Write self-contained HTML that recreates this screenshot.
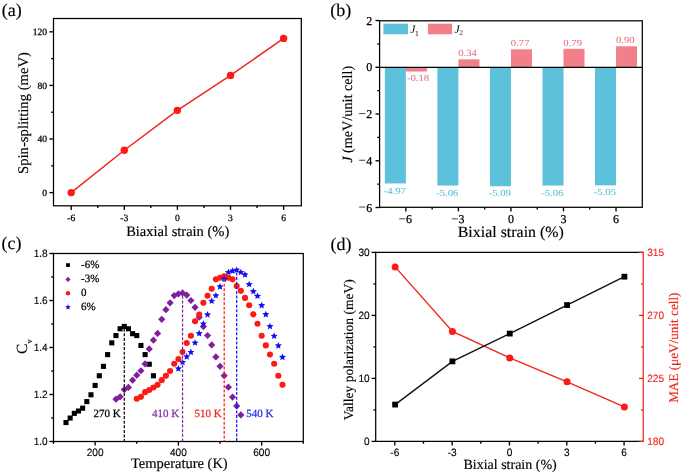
<!DOCTYPE html>
<html><head><meta charset="utf-8"><style>
html,body{margin:0;padding:0;background:#fff;}
body{width:685px;height:474px;overflow:hidden;}
svg{display:block;will-change:transform;}
</style></head><body>
<svg text-rendering="geometricPrecision" width="685" height="474" viewBox="0 0 685 474" font-family='"Liberation Serif", serif'>
<rect width="685" height="474" fill="#fff"/>
<text x="1.8" y="16.1" font-size="18" font-family='"Liberation Serif", serif' text-anchor="start" fill="#000" stroke="#000" stroke-width="0.15" >(a)</text>
<line x1="71.2" y1="205.8" x2="71.2" y2="209.9" stroke="#000" stroke-width="1.35" />
<text x="71.2" y="220.6" font-size="9.6" font-family='"Liberation Serif", serif' text-anchor="middle" fill="#000" stroke="#000" stroke-width="0.25" >-6</text>
<line x1="124.3" y1="205.8" x2="124.3" y2="209.9" stroke="#000" stroke-width="1.35" />
<text x="124.3" y="220.6" font-size="9.6" font-family='"Liberation Serif", serif' text-anchor="middle" fill="#000" stroke="#000" stroke-width="0.25" >-3</text>
<line x1="177.4" y1="205.8" x2="177.4" y2="209.9" stroke="#000" stroke-width="1.35" />
<text x="177.4" y="220.6" font-size="9.6" font-family='"Liberation Serif", serif' text-anchor="middle" fill="#000" stroke="#000" stroke-width="0.25" >0</text>
<line x1="230.5" y1="205.8" x2="230.5" y2="209.9" stroke="#000" stroke-width="1.35" />
<text x="230.5" y="220.6" font-size="9.6" font-family='"Liberation Serif", serif' text-anchor="middle" fill="#000" stroke="#000" stroke-width="0.25" >3</text>
<line x1="283.6" y1="205.8" x2="283.6" y2="209.9" stroke="#000" stroke-width="1.35" />
<text x="283.6" y="220.6" font-size="9.6" font-family='"Liberation Serif", serif' text-anchor="middle" fill="#000" stroke="#000" stroke-width="0.25" >6</text>
<line x1="97.75" y1="205.8" x2="97.75" y2="208.1" stroke="#000" stroke-width="1.35" />
<line x1="150.85" y1="205.8" x2="150.85" y2="208.1" stroke="#000" stroke-width="1.35" />
<line x1="203.95" y1="205.8" x2="203.95" y2="208.1" stroke="#000" stroke-width="1.35" />
<line x1="257.05" y1="205.8" x2="257.05" y2="208.1" stroke="#000" stroke-width="1.35" />
<line x1="49.4" y1="192.6" x2="53.5" y2="192.6" stroke="#000" stroke-width="1.35" />
<text x="47.1" y="196" font-size="9.6" font-family='"Liberation Serif", serif' text-anchor="end" fill="#000" stroke="#000" stroke-width="0.25" >0</text>
<line x1="49.4" y1="139.01" x2="53.5" y2="139.01" stroke="#000" stroke-width="1.35" />
<text x="47.1" y="142.41" font-size="9.6" font-family='"Liberation Serif", serif' text-anchor="end" fill="#000" stroke="#000" stroke-width="0.25" >40</text>
<line x1="49.4" y1="85.42" x2="53.5" y2="85.42" stroke="#000" stroke-width="1.35" />
<text x="47.1" y="88.82" font-size="9.6" font-family='"Liberation Serif", serif' text-anchor="end" fill="#000" stroke="#000" stroke-width="0.25" >80</text>
<line x1="49.4" y1="31.84" x2="53.5" y2="31.84" stroke="#000" stroke-width="1.35" />
<text x="47.1" y="35.24" font-size="9.6" font-family='"Liberation Serif", serif' text-anchor="end" fill="#000" stroke="#000" stroke-width="0.25" >120</text>
<line x1="51.2" y1="165.81" x2="53.5" y2="165.81" stroke="#000" stroke-width="1.35" />
<line x1="51.2" y1="112.22" x2="53.5" y2="112.22" stroke="#000" stroke-width="1.35" />
<line x1="51.2" y1="58.63" x2="53.5" y2="58.63" stroke="#000" stroke-width="1.35" />
<rect x="53.5" y="18.5" width="247.8" height="187.3" fill="none" stroke="#000" stroke-width="1.25"/>
<polyline points="71.2,192.6 124.3,150.27 177.4,110.34 230.5,75.38 283.6,38.4" fill="none" stroke="#f0261f" stroke-width="1.5"/>
<circle cx="71.2" cy="192.6" r="3.7" fill="#fd1a12"/>
<circle cx="124.3" cy="150.27" r="3.7" fill="#fd1a12"/>
<circle cx="177.4" cy="110.34" r="3.7" fill="#fd1a12"/>
<circle cx="230.5" cy="75.38" r="3.7" fill="#fd1a12"/>
<circle cx="283.6" cy="38.4" r="3.7" fill="#fd1a12"/>
<text x="177.7" y="236" font-size="14.5" font-family='"Liberation Serif", serif' text-anchor="middle" fill="#000" stroke="#000" stroke-width="0.15" >Biaxial strain (%)</text>
<text transform="translate(28,113) rotate(-90)" x="0" y="0" font-size="14.7" font-family='"Liberation Serif", serif' text-anchor="middle" fill="#000" stroke="#000" stroke-width="0.15" >Spin-splitting (meV)</text>
<text x="330.2" y="16.1" font-size="18" font-family='"Liberation Serif", serif' text-anchor="start" fill="#000" stroke="#000" stroke-width="0.15" >(b)</text>
<rect x="384.85" y="67.3" width="21.02" height="116.15" fill="#5ec1db"/>
<rect x="405.87" y="67.3" width="21.02" height="4.21" fill="#f1808a"/>
<text transform="translate(394.76,193.55) scale(1.15,1)" font-size="9.3" text-anchor="middle" fill="#5bbcd6" stroke="#5bbcd6" stroke-width="0.05">-4.97</text>
<text transform="translate(418.08,81.11) scale(1.15,1)" font-size="9.3" text-anchor="middle" fill="#e8707e" stroke="#e8707e" stroke-width="0.05">-0.18</text>
<rect x="437.39" y="67.3" width="21.02" height="118.25" fill="#5ec1db"/>
<rect x="458.41" y="59.35" width="21.02" height="7.95" fill="#f1808a"/>
<text transform="translate(447.30,195.65) scale(1.15,1)" font-size="9.3" text-anchor="middle" fill="#5bbcd6" stroke="#5bbcd6" stroke-width="0.05">-5.06</text>
<text transform="translate(467.62,56.35) scale(1.15,1)" font-size="9.3" text-anchor="middle" fill="#e8707e" stroke="#e8707e" stroke-width="0.05">0.34</text>
<rect x="489.93" y="67.3" width="21.02" height="118.95" fill="#5ec1db"/>
<rect x="510.95" y="49.31" width="21.02" height="17.99" fill="#f1808a"/>
<text transform="translate(499.84,196.35) scale(1.15,1)" font-size="9.3" text-anchor="middle" fill="#5bbcd6" stroke="#5bbcd6" stroke-width="0.05">-5.09</text>
<text transform="translate(520.16,46.31) scale(1.15,1)" font-size="9.3" text-anchor="middle" fill="#e8707e" stroke="#e8707e" stroke-width="0.05">0.77</text>
<rect x="542.47" y="67.3" width="21.02" height="118.25" fill="#5ec1db"/>
<rect x="563.49" y="48.84" width="21.02" height="18.46" fill="#f1808a"/>
<text transform="translate(552.38,195.65) scale(1.15,1)" font-size="9.3" text-anchor="middle" fill="#5bbcd6" stroke="#5bbcd6" stroke-width="0.05">-5.06</text>
<text transform="translate(572.70,45.84) scale(1.15,1)" font-size="9.3" text-anchor="middle" fill="#e8707e" stroke="#e8707e" stroke-width="0.05">0.79</text>
<rect x="595.01" y="67.3" width="21.02" height="118.02" fill="#5ec1db"/>
<rect x="616.03" y="46.27" width="21.02" height="21.03" fill="#f1808a"/>
<text transform="translate(604.92,195.42) scale(1.15,1)" font-size="9.3" text-anchor="middle" fill="#5bbcd6" stroke="#5bbcd6" stroke-width="0.05">-5.05</text>
<text transform="translate(625.24,43.27) scale(1.15,1)" font-size="9.3" text-anchor="middle" fill="#e8707e" stroke="#e8707e" stroke-width="0.05">0.90</text>
<line x1="379.6" y1="67.3" x2="642.3" y2="67.3" stroke="#000" stroke-width="1.2" />
<rect x="383.4" y="23.7" width="24.6" height="10.6" fill="#5ec1db"/>
<text x="410.3" y="33" font-size="11.5" font-family='"Liberation Serif", serif' font-style="italic">J</text>
<text x="415" y="35.5" font-size="7.5" font-family='"Liberation Serif", serif'>1</text>
<rect x="427.9" y="23.7" width="24.2" height="10.6" fill="#f1808a"/>
<text x="454.5" y="33" font-size="11.5" font-family='"Liberation Serif", serif' font-style="italic">J</text>
<text x="459.2" y="35" font-size="7.5" font-family='"Liberation Serif", serif'>2</text>
<line x1="405.87" y1="207.3" x2="405.87" y2="211.4" stroke="#000" stroke-width="1.35" />
<text x="406.07" y="223" font-size="12" font-family='"Liberation Serif", serif' text-anchor="start" fill="#000" stroke="#000" stroke-width="0.25" >6</text>
<rect x="399.17" y="218.25" width="6.1" height="1.1" fill="#555"/>
<line x1="458.41" y1="207.3" x2="458.41" y2="211.4" stroke="#000" stroke-width="1.35" />
<text x="458.61" y="223" font-size="12" font-family='"Liberation Serif", serif' text-anchor="start" fill="#000" stroke="#000" stroke-width="0.25" >3</text>
<rect x="451.71" y="218.25" width="6.1" height="1.1" fill="#555"/>
<line x1="510.95" y1="207.3" x2="510.95" y2="211.4" stroke="#000" stroke-width="1.35" />
<text x="510.95" y="223" font-size="12" font-family='"Liberation Serif", serif' text-anchor="middle" fill="#000" stroke="#000" stroke-width="0.25" >0</text>
<line x1="563.49" y1="207.3" x2="563.49" y2="211.4" stroke="#000" stroke-width="1.35" />
<text x="563.49" y="223" font-size="12" font-family='"Liberation Serif", serif' text-anchor="middle" fill="#000" stroke="#000" stroke-width="0.25" >3</text>
<line x1="616.03" y1="207.3" x2="616.03" y2="211.4" stroke="#000" stroke-width="1.35" />
<text x="616.03" y="223" font-size="12" font-family='"Liberation Serif", serif' text-anchor="middle" fill="#000" stroke="#000" stroke-width="0.25" >6</text>
<line x1="432.14" y1="207.3" x2="432.14" y2="209.6" stroke="#000" stroke-width="1.35" />
<line x1="484.68" y1="207.3" x2="484.68" y2="209.6" stroke="#000" stroke-width="1.35" />
<line x1="537.22" y1="207.3" x2="537.22" y2="209.6" stroke="#000" stroke-width="1.35" />
<line x1="589.76" y1="207.3" x2="589.76" y2="209.6" stroke="#000" stroke-width="1.35" />
<line x1="375.5" y1="20.56" x2="379.6" y2="20.56" stroke="#000" stroke-width="1.35" />
<text x="372.3" y="24.56" font-size="12" font-family='"Liberation Serif", serif' text-anchor="end" fill="#000" stroke="#000" stroke-width="0.25" >2</text>
<line x1="375.5" y1="67.3" x2="379.6" y2="67.3" stroke="#000" stroke-width="1.35" />
<text x="372.3" y="71.3" font-size="12" font-family='"Liberation Serif", serif' text-anchor="end" fill="#000" stroke="#000" stroke-width="0.25" >0</text>
<line x1="375.5" y1="114.04" x2="379.6" y2="114.04" stroke="#000" stroke-width="1.35" />
<text x="372.3" y="118.04" font-size="12" font-family='"Liberation Serif", serif' text-anchor="end" fill="#000" stroke="#000" stroke-width="0.25" >2</text>
<rect x="359.10" y="112.99" width="6.2" height="1.1" fill="#555"/>
<line x1="375.5" y1="160.78" x2="379.6" y2="160.78" stroke="#000" stroke-width="1.35" />
<text x="372.3" y="164.78" font-size="12" font-family='"Liberation Serif", serif' text-anchor="end" fill="#000" stroke="#000" stroke-width="0.25" >4</text>
<rect x="359.10" y="159.73" width="6.2" height="1.1" fill="#555"/>
<line x1="375.5" y1="207.52" x2="379.6" y2="207.52" stroke="#000" stroke-width="1.35" />
<text x="372.3" y="211.52" font-size="12" font-family='"Liberation Serif", serif' text-anchor="end" fill="#000" stroke="#000" stroke-width="0.25" >6</text>
<rect x="359.10" y="206.47" width="6.2" height="1.1" fill="#555"/>
<line x1="377.3" y1="43.93" x2="379.6" y2="43.93" stroke="#000" stroke-width="1.35" />
<line x1="377.3" y1="90.67" x2="379.6" y2="90.67" stroke="#000" stroke-width="1.35" />
<line x1="377.3" y1="137.41" x2="379.6" y2="137.41" stroke="#000" stroke-width="1.35" />
<line x1="377.3" y1="184.15" x2="379.6" y2="184.15" stroke="#000" stroke-width="1.35" />
<rect x="379.6" y="20.8" width="262.7" height="186.5" fill="none" stroke="#000" stroke-width="1.25"/>
<text transform="translate(510.80,237.30) scale(1.015,1)" font-size="15.7" font-family='"Liberation Serif", serif' text-anchor="middle" fill="#000" stroke="#000" stroke-width="0.15" >Bixial strain (%)</text>
<text transform="translate(351.7,114.35) rotate(-90)" x="0" y="0" font-size="14.2" font-family='"Liberation Serif", serif' text-anchor="middle" fill="#000" stroke="#000" stroke-width="0.15" ><tspan font-style="italic">J</tspan> (meV/unit cell)</text>
<text x="1.5" y="249" font-size="18" font-family='"Liberation Serif", serif' text-anchor="start" fill="#000" stroke="#000" stroke-width="0.15" >(c)</text>
<line x1="95.13" y1="441.5" x2="95.13" y2="445.6" stroke="#000" stroke-width="1.35" />
<text transform="translate(95.13,456.10) scale(0.955,1)" font-size="10.6" font-family='"Liberation Sans", sans-serif' text-anchor="middle" fill="#000" stroke="#000" stroke-width="0.12" >200</text>
<line x1="178.4" y1="441.5" x2="178.4" y2="445.6" stroke="#000" stroke-width="1.35" />
<text transform="translate(178.40,456.10) scale(0.955,1)" font-size="10.6" font-family='"Liberation Sans", sans-serif' text-anchor="middle" fill="#000" stroke="#000" stroke-width="0.12" >400</text>
<line x1="261.67" y1="441.5" x2="261.67" y2="445.6" stroke="#000" stroke-width="1.35" />
<text transform="translate(261.67,456.10) scale(0.955,1)" font-size="10.6" font-family='"Liberation Sans", sans-serif' text-anchor="middle" fill="#000" stroke="#000" stroke-width="0.12" >600</text>
<line x1="53.5" y1="441.5" x2="53.5" y2="443.8" stroke="#000" stroke-width="1.35" />
<line x1="136.77" y1="441.5" x2="136.77" y2="443.8" stroke="#000" stroke-width="1.35" />
<line x1="220.03" y1="441.5" x2="220.03" y2="443.8" stroke="#000" stroke-width="1.35" />
<line x1="303.3" y1="441.5" x2="303.3" y2="443.8" stroke="#000" stroke-width="1.35" />
<line x1="49.4" y1="441.5" x2="53.5" y2="441.5" stroke="#000" stroke-width="1.35" />
<text transform="translate(47.70,445.20) scale(0.955,1)" font-size="10.6" font-family='"Liberation Sans", sans-serif' text-anchor="end" fill="#000" stroke="#000" stroke-width="0.12" >1.0</text>
<line x1="49.4" y1="394.5" x2="53.5" y2="394.5" stroke="#000" stroke-width="1.35" />
<text transform="translate(47.70,398.20) scale(0.955,1)" font-size="10.6" font-family='"Liberation Sans", sans-serif' text-anchor="end" fill="#000" stroke="#000" stroke-width="0.12" >1.2</text>
<line x1="49.4" y1="347.5" x2="53.5" y2="347.5" stroke="#000" stroke-width="1.35" />
<text transform="translate(47.70,351.20) scale(0.955,1)" font-size="10.6" font-family='"Liberation Sans", sans-serif' text-anchor="end" fill="#000" stroke="#000" stroke-width="0.12" >1.4</text>
<line x1="49.4" y1="300.5" x2="53.5" y2="300.5" stroke="#000" stroke-width="1.35" />
<text transform="translate(47.70,304.20) scale(0.955,1)" font-size="10.6" font-family='"Liberation Sans", sans-serif' text-anchor="end" fill="#000" stroke="#000" stroke-width="0.12" >1.6</text>
<line x1="49.4" y1="253.5" x2="53.5" y2="253.5" stroke="#000" stroke-width="1.35" />
<text transform="translate(47.70,257.20) scale(0.955,1)" font-size="10.6" font-family='"Liberation Sans", sans-serif' text-anchor="end" fill="#000" stroke="#000" stroke-width="0.12" >1.8</text>
<line x1="51.2" y1="418" x2="53.5" y2="418" stroke="#000" stroke-width="1.35" />
<line x1="51.2" y1="371" x2="53.5" y2="371" stroke="#000" stroke-width="1.35" />
<line x1="51.2" y1="324" x2="53.5" y2="324" stroke="#000" stroke-width="1.35" />
<line x1="51.2" y1="277" x2="53.5" y2="277" stroke="#000" stroke-width="1.35" />
<rect x="53.5" y="253.5" width="249.8" height="188" fill="none" stroke="#000" stroke-width="1.25"/>
<rect x="63.44" y="419.98" width="5.1" height="5.1" fill="#000"/><rect x="67.60" y="415.51" width="5.1" height="5.1" fill="#000"/><rect x="71.77" y="410.81" width="5.1" height="5.1" fill="#000"/><rect x="75.93" y="408.46" width="5.1" height="5.1" fill="#000"/><rect x="80.09" y="405.64" width="5.1" height="5.1" fill="#000"/><rect x="84.26" y="399.06" width="5.1" height="5.1" fill="#000"/><rect x="88.42" y="392.25" width="5.1" height="5.1" fill="#000"/><rect x="92.58" y="382.85" width="5.1" height="5.1" fill="#000"/><rect x="96.75" y="373.22" width="5.1" height="5.1" fill="#000"/><rect x="100.91" y="363.81" width="5.1" height="5.1" fill="#000"/><rect x="105.07" y="352.06" width="5.1" height="5.1" fill="#000"/><rect x="109.24" y="340.31" width="5.1" height="5.1" fill="#000"/><rect x="113.40" y="333.03" width="5.1" height="5.1" fill="#000"/><rect x="117.56" y="326.21" width="5.1" height="5.1" fill="#000"/><rect x="121.73" y="323.87" width="5.1" height="5.1" fill="#000"/><rect x="125.89" y="326.21" width="5.1" height="5.1" fill="#000"/><rect x="130.05" y="331.15" width="5.1" height="5.1" fill="#000"/><rect x="134.22" y="333.03" width="5.1" height="5.1" fill="#000"/><rect x="138.38" y="342.90" width="5.1" height="5.1" fill="#000"/><rect x="142.54" y="352.06" width="5.1" height="5.1" fill="#000"/><rect x="146.71" y="361.70" width="5.1" height="5.1" fill="#000"/><rect x="150.87" y="373.22" width="5.1" height="5.1" fill="#000"/><rect x="113.40" y="396.65" width="5.1" height="5.1" fill="#7f1fa0" transform="rotate(45 115.95 399.20)"/><rect x="117.56" y="394.30" width="5.1" height="5.1" fill="#7f1fa0" transform="rotate(45 120.11 396.85)"/><rect x="121.73" y="387.01" width="5.1" height="5.1" fill="#7f1fa0" transform="rotate(45 124.28 389.56)"/><rect x="125.89" y="384.90" width="5.1" height="5.1" fill="#7f1fa0" transform="rotate(45 128.44 387.45)"/><rect x="130.05" y="377.62" width="5.1" height="5.1" fill="#7f1fa0" transform="rotate(45 132.60 380.17)"/><rect x="134.22" y="372.68" width="5.1" height="5.1" fill="#7f1fa0" transform="rotate(45 136.77 375.23)"/><rect x="138.38" y="368.21" width="5.1" height="5.1" fill="#7f1fa0" transform="rotate(45 140.93 370.76)"/><rect x="142.54" y="361.40" width="5.1" height="5.1" fill="#7f1fa0" transform="rotate(45 145.09 363.95)"/><rect x="146.71" y="346.36" width="5.1" height="5.1" fill="#7f1fa0" transform="rotate(45 149.26 348.91)"/><rect x="150.87" y="337.67" width="5.1" height="5.1" fill="#7f1fa0" transform="rotate(45 153.42 340.22)"/><rect x="155.03" y="330.85" width="5.1" height="5.1" fill="#7f1fa0" transform="rotate(45 157.58 333.40)"/><rect x="159.20" y="316.75" width="5.1" height="5.1" fill="#7f1fa0" transform="rotate(45 161.75 319.30)"/><rect x="163.36" y="307.12" width="5.1" height="5.1" fill="#7f1fa0" transform="rotate(45 165.91 309.67)"/><rect x="167.52" y="300.30" width="5.1" height="5.1" fill="#7f1fa0" transform="rotate(45 170.07 302.85)"/><rect x="171.69" y="293.01" width="5.1" height="5.1" fill="#7f1fa0" transform="rotate(45 174.24 295.56)"/><rect x="175.85" y="291.37" width="5.1" height="5.1" fill="#7f1fa0" transform="rotate(45 178.40 293.92)"/><rect x="180.01" y="290.43" width="5.1" height="5.1" fill="#7f1fa0" transform="rotate(45 182.56 292.98)"/><rect x="184.18" y="292.55" width="5.1" height="5.1" fill="#7f1fa0" transform="rotate(45 186.73 295.10)"/><rect x="188.34" y="297.95" width="5.1" height="5.1" fill="#7f1fa0" transform="rotate(45 190.89 300.50)"/><rect x="192.50" y="304.77" width="5.1" height="5.1" fill="#7f1fa0" transform="rotate(45 195.05 307.32)"/><rect x="196.67" y="314.64" width="5.1" height="5.1" fill="#7f1fa0" transform="rotate(45 199.22 317.19)"/><rect x="200.83" y="324.03" width="5.1" height="5.1" fill="#7f1fa0" transform="rotate(45 203.38 326.58)"/><rect x="204.99" y="332.96" width="5.1" height="5.1" fill="#7f1fa0" transform="rotate(45 207.54 335.51)"/><rect x="209.16" y="342.37" width="5.1" height="5.1" fill="#7f1fa0" transform="rotate(45 211.71 344.92)"/><rect x="213.32" y="354.35" width="5.1" height="5.1" fill="#7f1fa0" transform="rotate(45 215.87 356.90)"/><rect x="217.48" y="363.75" width="5.1" height="5.1" fill="#7f1fa0" transform="rotate(45 220.03 366.30)"/><rect x="221.65" y="373.15" width="5.1" height="5.1" fill="#7f1fa0" transform="rotate(45 224.20 375.70)"/><rect x="225.81" y="384.66" width="5.1" height="5.1" fill="#7f1fa0" transform="rotate(45 228.36 387.21)"/><rect x="229.97" y="394.53" width="5.1" height="5.1" fill="#7f1fa0" transform="rotate(45 232.52 397.08)"/><rect x="234.14" y="403.46" width="5.1" height="5.1" fill="#7f1fa0" transform="rotate(45 236.69 406.01)"/><rect x="238.30" y="412.39" width="5.1" height="5.1" fill="#7f1fa0" transform="rotate(45 240.85 414.94)"/><circle cx="136.77" cy="398.73" r="3.05" fill="#fd1a12"/><circle cx="140.93" cy="396.85" r="3.05" fill="#fd1a12"/><circle cx="145.09" cy="392.15" r="3.05" fill="#fd1a12"/><circle cx="149.26" cy="390.03" r="3.05" fill="#fd1a12"/><circle cx="153.42" cy="387.45" r="3.05" fill="#fd1a12"/><circle cx="157.58" cy="384.86" r="3.05" fill="#fd1a12"/><circle cx="161.75" cy="380.17" r="3.05" fill="#fd1a12"/><circle cx="165.91" cy="375.70" r="3.05" fill="#fd1a12"/><circle cx="170.07" cy="371.00" r="3.05" fill="#fd1a12"/><circle cx="174.24" cy="363.72" r="3.05" fill="#fd1a12"/><circle cx="178.40" cy="359.01" r="3.05" fill="#fd1a12"/><circle cx="182.56" cy="351.97" r="3.05" fill="#fd1a12"/><circle cx="186.73" cy="343.03" r="3.05" fill="#fd1a12"/><circle cx="190.89" cy="335.75" r="3.05" fill="#fd1a12"/><circle cx="195.05" cy="321.18" r="3.05" fill="#fd1a12"/><circle cx="199.22" cy="314.60" r="3.05" fill="#fd1a12"/><circle cx="203.38" cy="302.85" r="3.05" fill="#fd1a12"/><circle cx="207.54" cy="295.80" r="3.05" fill="#fd1a12"/><circle cx="211.71" cy="288.75" r="3.05" fill="#fd1a12"/><circle cx="215.87" cy="279.35" r="3.05" fill="#fd1a12"/><circle cx="220.03" cy="277.71" r="3.05" fill="#fd1a12"/><circle cx="224.20" cy="276.29" r="3.05" fill="#fd1a12"/><circle cx="228.36" cy="277.71" r="3.05" fill="#fd1a12"/><circle cx="232.52" cy="279.35" r="3.05" fill="#fd1a12"/><circle cx="236.69" cy="285.93" r="3.05" fill="#fd1a12"/><circle cx="240.85" cy="290.87" r="3.05" fill="#fd1a12"/><circle cx="245.01" cy="297.92" r="3.05" fill="#fd1a12"/><circle cx="249.18" cy="305.20" r="3.05" fill="#fd1a12"/><circle cx="253.34" cy="314.37" r="3.05" fill="#fd1a12"/><circle cx="257.50" cy="323.77" r="3.05" fill="#fd1a12"/><circle cx="261.67" cy="335.75" r="3.05" fill="#fd1a12"/><circle cx="265.83" cy="345.38" r="3.05" fill="#fd1a12"/><circle cx="269.99" cy="354.55" r="3.05" fill="#fd1a12"/><circle cx="274.16" cy="363.72" r="3.05" fill="#fd1a12"/><circle cx="278.32" cy="375.70" r="3.05" fill="#fd1a12"/><circle cx="282.48" cy="384.86" r="3.05" fill="#fd1a12"/><path d="M178.40,365.02 L179.40,367.34 L181.92,367.57 L180.02,369.24 L180.57,371.71 L178.40,370.42 L176.23,371.71 L176.78,369.24 L174.88,367.57 L177.40,367.34Z" fill="#1010f0"/><path d="M182.56,358.67 L183.56,360.99 L186.08,361.23 L184.18,362.90 L184.74,365.36 L182.56,364.07 L180.39,365.36 L180.94,362.90 L179.04,361.23 L181.56,360.99Z" fill="#1010f0"/><path d="M186.73,353.03 L187.73,355.35 L190.25,355.59 L188.35,357.26 L188.90,359.72 L186.73,358.43 L184.55,359.72 L185.11,357.26 L183.21,355.59 L185.73,355.35Z" fill="#1010f0"/><path d="M190.89,348.57 L191.89,350.89 L194.41,351.12 L192.51,352.79 L193.06,355.26 L190.89,353.97 L188.72,355.26 L189.27,352.79 L187.37,351.12 L189.89,350.89Z" fill="#1010f0"/><path d="M195.05,339.17 L196.05,341.49 L198.57,341.72 L196.67,343.39 L197.23,345.86 L195.05,344.57 L192.88,345.86 L193.43,343.39 L191.53,341.72 L194.05,341.49Z" fill="#1010f0"/><path d="M199.22,329.76 L200.22,332.09 L202.74,332.32 L200.84,333.99 L201.39,336.46 L199.22,335.17 L197.04,336.46 L197.60,333.99 L195.70,332.32 L198.22,332.09Z" fill="#1010f0"/><path d="M203.38,320.13 L204.38,322.45 L206.90,322.69 L205.00,324.36 L205.55,326.82 L203.38,325.53 L201.21,326.82 L201.76,324.36 L199.86,322.69 L202.38,322.45Z" fill="#1010f0"/><path d="M207.54,310.97 L208.54,313.29 L211.06,313.52 L209.16,315.19 L209.72,317.66 L207.54,316.37 L205.37,317.66 L205.92,315.19 L204.02,313.52 L206.54,313.29Z" fill="#1010f0"/><path d="M211.71,297.34 L212.71,299.66 L215.23,299.89 L213.33,301.56 L213.88,304.03 L211.71,302.74 L209.53,304.03 L210.09,301.56 L208.19,299.89 L210.71,299.66Z" fill="#1010f0"/><path d="M215.87,291.93 L216.87,294.25 L219.39,294.49 L217.49,296.16 L218.04,298.62 L215.87,297.33 L213.70,298.62 L214.25,296.16 L212.35,294.49 L214.87,294.25Z" fill="#1010f0"/><path d="M220.03,283.00 L221.03,285.32 L223.55,285.56 L221.65,287.23 L222.21,289.69 L220.03,288.40 L217.86,289.69 L218.41,287.23 L216.51,285.56 L219.03,285.32Z" fill="#1010f0"/><path d="M224.20,275.25 L225.20,277.57 L227.72,277.80 L225.82,279.47 L226.37,281.94 L224.20,280.65 L222.02,281.94 L222.58,279.47 L220.68,277.80 L223.20,277.57Z" fill="#1010f0"/><path d="M228.36,268.67 L229.36,270.99 L231.88,271.22 L229.98,272.89 L230.53,275.36 L228.36,274.07 L226.19,275.36 L226.74,272.89 L224.84,271.22 L227.36,270.99Z" fill="#1010f0"/><path d="M232.52,267.25 L233.52,269.58 L236.04,269.81 L234.14,271.48 L234.70,273.95 L232.52,272.66 L230.35,273.95 L230.90,271.48 L229.00,269.81 L231.52,269.58Z" fill="#1010f0"/><path d="M236.69,266.31 L237.69,268.64 L240.21,268.87 L238.31,270.54 L238.86,273.01 L236.69,271.72 L234.51,273.01 L235.07,270.54 L233.17,268.87 L235.69,268.64Z" fill="#1010f0"/><path d="M240.85,268.67 L241.85,270.99 L244.37,271.22 L242.47,272.89 L243.02,275.36 L240.85,274.07 L238.68,275.36 L239.23,272.89 L237.33,271.22 L239.85,270.99Z" fill="#1010f0"/><path d="M245.01,271.01 L246.01,273.34 L248.53,273.57 L246.63,275.24 L247.19,277.71 L245.01,276.42 L242.84,277.71 L243.39,275.24 L241.49,273.57 L244.01,273.34Z" fill="#1010f0"/><path d="M249.18,280.65 L250.18,282.97 L252.70,283.21 L250.80,284.88 L251.35,287.34 L249.18,286.05 L247.00,287.34 L247.56,284.88 L245.66,283.21 L248.18,282.97Z" fill="#1010f0"/><path d="M253.34,287.70 L254.34,290.02 L256.86,290.26 L254.96,291.93 L255.51,294.39 L253.34,293.10 L251.17,294.39 L251.72,291.93 L249.82,290.26 L252.34,290.02Z" fill="#1010f0"/><path d="M257.50,292.40 L258.50,294.72 L261.02,294.96 L259.12,296.63 L259.68,299.09 L257.50,297.80 L255.33,299.09 L255.88,296.63 L253.98,294.96 L256.50,294.72Z" fill="#1010f0"/><path d="M261.67,301.80 L262.67,304.12 L265.19,304.36 L263.29,306.03 L263.84,308.49 L261.67,307.20 L259.49,308.49 L260.05,306.03 L258.15,304.36 L260.67,304.12Z" fill="#1010f0"/><path d="M265.83,310.73 L266.83,313.05 L269.35,313.29 L267.45,314.96 L268.00,317.42 L265.83,316.13 L263.66,317.42 L264.21,314.96 L262.31,313.29 L264.83,313.05Z" fill="#1010f0"/><path d="M269.99,322.72 L270.99,325.04 L273.51,325.27 L271.61,326.94 L272.17,329.41 L269.99,328.12 L267.82,329.41 L268.37,326.94 L266.47,325.27 L268.99,325.04Z" fill="#1010f0"/><path d="M274.16,332.35 L275.16,334.67 L277.68,334.91 L275.78,336.58 L276.33,339.04 L274.16,337.75 L271.98,339.04 L272.54,336.58 L270.64,334.91 L273.16,334.67Z" fill="#1010f0"/><path d="M278.32,341.99 L279.32,344.31 L281.84,344.54 L279.94,346.21 L280.49,348.68 L278.32,347.39 L276.15,348.68 L276.70,346.21 L274.80,344.54 L277.32,344.31Z" fill="#1010f0"/><path d="M282.48,353.50 L283.48,355.82 L286.00,356.06 L284.10,357.73 L284.66,360.19 L282.48,358.90 L280.31,360.19 L280.86,357.73 L278.96,356.06 L281.48,355.82Z" fill="#1010f0"/>
<line x1="124.28" y1="328.72" x2="124.28" y2="441.5" stroke="#000" stroke-width="1.2" stroke-dasharray="3,1.6"/>
<line x1="182.56" y1="295.78" x2="182.56" y2="441.5" stroke="#7f1fa0" stroke-width="1.2" stroke-dasharray="3,1.6"/>
<line x1="224.2" y1="279.09" x2="224.2" y2="441.5" stroke="#fd1a12" stroke-width="1.2" stroke-dasharray="3,1.6"/>
<line x1="236.69" y1="272.51" x2="236.69" y2="441.5" stroke="#1010f0" stroke-width="1.2" stroke-dasharray="3,1.6"/>
<rect x="66.1" y="263.2" width="3.8" height="3.8" fill="#000"/>
<rect x="66.2" y="277.6" width="3.6" height="3.6" fill="#7f1fa0" transform="rotate(45 68 279.4)"/>
<circle cx="68" cy="293.2" r="2.2" fill="#fd1a12"/>
<path d="M68.00,304.20 L68.78,306.02 L70.76,306.20 L69.27,307.51 L69.70,309.45 L68.00,308.43 L66.30,309.45 L66.73,307.51 L65.24,306.20 L67.22,306.02Z" fill="#1010f0"/>
<text x="81" y="268.2" font-size="11" font-family='"Liberation Serif", serif' text-anchor="start" fill="#000" stroke="#000" stroke-width="0.25" >-6%</text>
<text x="81" y="282.2" font-size="11" font-family='"Liberation Serif", serif' text-anchor="start" fill="#000" stroke="#000" stroke-width="0.25" >-3%</text>
<text x="81" y="296.2" font-size="11" font-family='"Liberation Serif", serif' text-anchor="start" fill="#000" stroke="#000" stroke-width="0.25" >0</text>
<text x="81" y="310.2" font-size="11" font-family='"Liberation Serif", serif' text-anchor="start" fill="#000" stroke="#000" stroke-width="0.25" >6%</text>
<text x="93.6" y="416.5" font-size="11" font-family='"Liberation Serif", serif' text-anchor="start" fill="#000" stroke="#000" stroke-width="0.25" >270 K</text>
<text x="151.9" y="416.5" font-size="11" font-family='"Liberation Serif", serif' text-anchor="start" fill="#8a2aa8" stroke="#8a2aa8" stroke-width="0.25" >410 K</text>
<text x="194.5" y="416.5" font-size="11" font-family='"Liberation Serif", serif' text-anchor="start" fill="#f22626" stroke="#f22626" stroke-width="0.25" >510 K</text>
<text x="246.2" y="416.5" font-size="11" font-family='"Liberation Serif", serif' text-anchor="start" fill="#2c2ce8" stroke="#2c2ce8" stroke-width="0.25" >540 K</text>
<text x="179.3" y="468" font-size="14.5" font-family='"Liberation Serif", serif' text-anchor="middle" fill="#000" stroke="#000" stroke-width="0.15" >Temperature (K)</text>
<text transform="translate(27,346.6) rotate(-90)" x="0" y="0" font-size="15.5" font-family='"Liberation Serif", serif' text-anchor="middle" fill="#000" stroke="#000" stroke-width="0.15" >C<tspan font-size="8.5" dy="5">v</tspan></text>
<text x="330.5" y="249.7" font-size="18" font-family='"Liberation Serif", serif' text-anchor="start" fill="#000" stroke="#000" stroke-width="0.15" >(d)</text>
<line x1="394.81" y1="441.4" x2="394.81" y2="445.5" stroke="#000" stroke-width="1.35" />
<text transform="translate(394.81,455.70) scale(0.955,1)" font-size="10.6" font-family='"Liberation Sans", sans-serif' text-anchor="middle" fill="#000" stroke="#000" stroke-width="0.12" >-6</text>
<line x1="452.13" y1="441.4" x2="452.13" y2="445.5" stroke="#000" stroke-width="1.35" />
<text transform="translate(452.13,455.70) scale(0.955,1)" font-size="10.6" font-family='"Liberation Sans", sans-serif' text-anchor="middle" fill="#000" stroke="#000" stroke-width="0.12" >-3</text>
<line x1="509.45" y1="441.4" x2="509.45" y2="445.5" stroke="#000" stroke-width="1.35" />
<text transform="translate(509.45,455.70) scale(0.955,1)" font-size="10.6" font-family='"Liberation Sans", sans-serif' text-anchor="middle" fill="#000" stroke="#000" stroke-width="0.12" >0</text>
<line x1="566.77" y1="441.4" x2="566.77" y2="445.5" stroke="#000" stroke-width="1.35" />
<text transform="translate(566.77,455.70) scale(0.955,1)" font-size="10.6" font-family='"Liberation Sans", sans-serif' text-anchor="middle" fill="#000" stroke="#000" stroke-width="0.12" >3</text>
<line x1="624.09" y1="441.4" x2="624.09" y2="445.5" stroke="#000" stroke-width="1.35" />
<text transform="translate(624.09,455.70) scale(0.955,1)" font-size="10.6" font-family='"Liberation Sans", sans-serif' text-anchor="middle" fill="#000" stroke="#000" stroke-width="0.12" >6</text>
<line x1="423.47" y1="441.4" x2="423.47" y2="443.7" stroke="#000" stroke-width="1.35" />
<line x1="480.79" y1="441.4" x2="480.79" y2="443.7" stroke="#000" stroke-width="1.35" />
<line x1="538.11" y1="441.4" x2="538.11" y2="443.7" stroke="#000" stroke-width="1.35" />
<line x1="595.43" y1="441.4" x2="595.43" y2="443.7" stroke="#000" stroke-width="1.35" />
<line x1="371.6" y1="441.4" x2="375.7" y2="441.4" stroke="#000" stroke-width="1.35" />
<text transform="translate(369.70,444.90) scale(0.955,1)" font-size="10.6" font-family='"Liberation Sans", sans-serif' text-anchor="end" fill="#000" stroke="#000" stroke-width="0.12" >0</text>
<line x1="371.6" y1="378.4" x2="375.7" y2="378.4" stroke="#000" stroke-width="1.35" />
<text transform="translate(369.70,381.90) scale(0.955,1)" font-size="10.6" font-family='"Liberation Sans", sans-serif' text-anchor="end" fill="#000" stroke="#000" stroke-width="0.12" >10</text>
<line x1="371.6" y1="315.4" x2="375.7" y2="315.4" stroke="#000" stroke-width="1.35" />
<text transform="translate(369.70,318.90) scale(0.955,1)" font-size="10.6" font-family='"Liberation Sans", sans-serif' text-anchor="end" fill="#000" stroke="#000" stroke-width="0.12" >20</text>
<line x1="371.6" y1="252.4" x2="375.7" y2="252.4" stroke="#000" stroke-width="1.35" />
<text transform="translate(369.70,255.90) scale(0.955,1)" font-size="10.6" font-family='"Liberation Sans", sans-serif' text-anchor="end" fill="#000" stroke="#000" stroke-width="0.12" >30</text>
<line x1="373.4" y1="409.9" x2="375.7" y2="409.9" stroke="#000" stroke-width="1.35" />
<line x1="373.4" y1="346.9" x2="375.7" y2="346.9" stroke="#000" stroke-width="1.35" />
<line x1="373.4" y1="283.9" x2="375.7" y2="283.9" stroke="#000" stroke-width="1.35" />
<line x1="375.7" y1="252.4" x2="375.7" y2="441.4" stroke="#000" stroke-width="1.25" />
<line x1="375.1" y1="441.4" x2="643.2" y2="441.4" stroke="#000" stroke-width="1.25" />
<line x1="375.1" y1="252.4" x2="643.2" y2="252.4" stroke="#000" stroke-width="1.25" />
<line x1="639.1" y1="441.4" x2="643.2" y2="441.4" stroke="#f0261f" stroke-width="1.35" />
<text transform="translate(647.20,445.00) scale(0.955,1)" font-size="10.6" font-family='"Liberation Sans", sans-serif' text-anchor="start" fill="#f0261f" stroke="#f0261f" stroke-width="0.12" >180</text>
<line x1="639.1" y1="378.4" x2="643.2" y2="378.4" stroke="#f0261f" stroke-width="1.35" />
<text transform="translate(647.20,382.00) scale(0.955,1)" font-size="10.6" font-family='"Liberation Sans", sans-serif' text-anchor="start" fill="#f0261f" stroke="#f0261f" stroke-width="0.12" >225</text>
<line x1="639.1" y1="315.4" x2="643.2" y2="315.4" stroke="#f0261f" stroke-width="1.35" />
<text transform="translate(647.20,319.00) scale(0.955,1)" font-size="10.6" font-family='"Liberation Sans", sans-serif' text-anchor="start" fill="#f0261f" stroke="#f0261f" stroke-width="0.12" >270</text>
<line x1="639.1" y1="252.4" x2="643.2" y2="252.4" stroke="#f0261f" stroke-width="1.35" />
<text transform="translate(647.20,256.00) scale(0.955,1)" font-size="10.6" font-family='"Liberation Sans", sans-serif' text-anchor="start" fill="#f0261f" stroke="#f0261f" stroke-width="0.12" >315</text>
<line x1="640.9" y1="409.9" x2="643.2" y2="409.9" stroke="#f0261f" stroke-width="1.35" />
<line x1="640.9" y1="346.9" x2="643.2" y2="346.9" stroke="#f0261f" stroke-width="1.35" />
<line x1="640.9" y1="283.9" x2="643.2" y2="283.9" stroke="#f0261f" stroke-width="1.35" />
<line x1="643.2" y1="251.8" x2="643.2" y2="442" stroke="#f0261f" stroke-width="1.25" />
<polyline points="395.11,266.89 452.43,331.43 509.75,357.89 567.07,381.83 624.39,406.89" fill="none" stroke="#f0261f" stroke-width="1.4"/>
<circle cx="395.11" cy="266.89" r="3.5" fill="#fd1a12"/>
<circle cx="452.43" cy="331.43" r="3.5" fill="#fd1a12"/>
<circle cx="509.75" cy="357.89" r="3.5" fill="#fd1a12"/>
<circle cx="567.07" cy="381.83" r="3.5" fill="#fd1a12"/>
<circle cx="624.39" cy="406.89" r="3.5" fill="#fd1a12"/>
<polyline points="395.11,404.58 452.43,361.36 509.75,333.58 567.07,305.04 624.39,276.69" fill="none" stroke="#111" stroke-width="1.4"/>
<rect x="392.21" y="401.68" width="5.8" height="5.8" fill="#000"/>
<rect x="449.53" y="358.46" width="5.8" height="5.8" fill="#000"/>
<rect x="506.85" y="330.68" width="5.8" height="5.8" fill="#000"/>
<rect x="564.17" y="302.14" width="5.8" height="5.8" fill="#000"/>
<rect x="621.49" y="273.79" width="5.8" height="5.8" fill="#000"/>
<text x="510.1" y="469" font-size="14" font-family='"Liberation Serif", serif' text-anchor="middle" fill="#000" stroke="#000" stroke-width="0.15" >Bixial strain (%)</text>
<text transform="translate(353.3,349.75) rotate(-90)" x="0" y="0" font-size="13.5" font-family='"Liberation Serif", serif' text-anchor="middle" fill="#000" stroke="#000" stroke-width="0.15" >Valley polarization (meV)</text>
<text transform="translate(678.2,347.7) rotate(-90)" x="0" y="0" font-size="13.2" font-family='"Liberation Serif", serif' text-anchor="middle" fill="#f0261f" stroke="#f0261f" stroke-width="0.15" >MAE (&#956;eV/unit cell)</text>
</svg>
</body></html>
